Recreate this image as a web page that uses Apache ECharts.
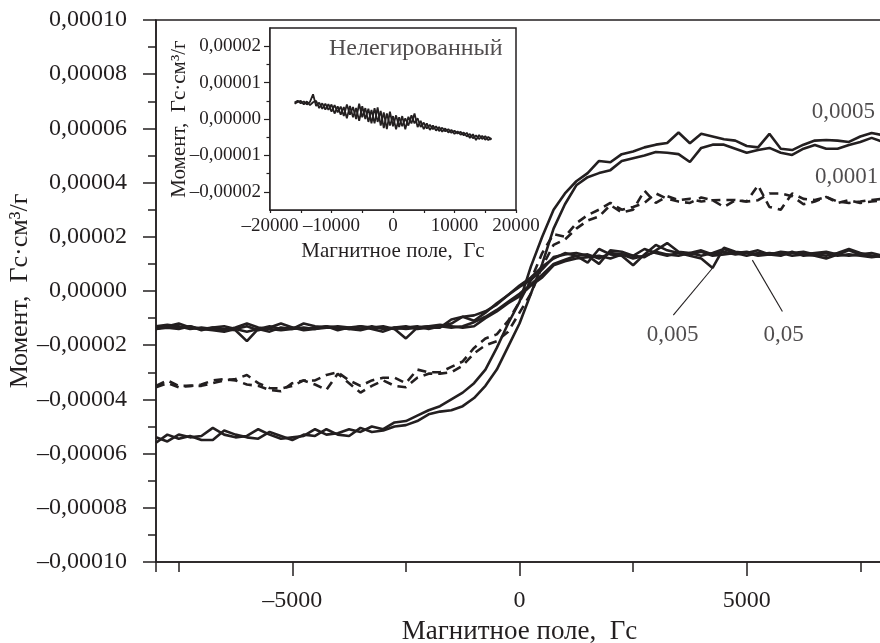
<!DOCTYPE html>
<html><head><meta charset="utf-8">
<script src="https://cdn.jsdelivr.net/npm/echarts@6/dist/echarts.min.js"></script>
<style>html,body{margin:0;padding:0;background:#fff}#c{width:880px;height:643px}</style>
</head><body><div id="c"></div>
<script>
// Magnetic field, Gs (main plot measurement points)
const field = [-8000,-7750,-7500,-7250,-7000,-6750,-6500,-6250,-6000,-5750,-5500,-5250,-5000,-4750,-4500,-4250,-4000,-3750,-3500,-3250,-3000,-2750,-2500,-2250,-2000,-1750,-1500,-1250,-1000,-750,-500,-250,0,250,500,750,1000,1250,1500,1750,2000,2250,2500,2750,3000,3250,3500,3750,4000,4250,4500,4750,5000,5250,5500,5750,6000,6250,6500,6750,7000,7250,7500,7750,8000];
// Moment values in units of 1e-5 Gs·cm3/g
const m0005Down = [-5.4,-5.55,-5.3,-5.4,-5.35,-5.05,-5.3,-5.4,-5.35,-5.1,-5.3,-5.45,-5.4,-5.35,-5.1,-5.3,-5.25,-5.1,-5.2,-5.0,-5.1,-4.85,-4.8,-4.6,-4.4,-4.25,-4.0,-3.75,-3.4,-2.9,-2.1,-1.2,-0.4,0.9,2.0,3.0,3.6,4.05,4.35,4.8,4.75,5.05,5.15,5.3,5.4,5.46,5.85,5.45,5.8,5.7,5.6,5.55,5.35,5.3,5.8,5.25,5.2,5.4,5.55,5.57,5.55,5.5,5.7,5.83,5.75];
const m0005Up = [-5.6,-5.3,-5.45,-5.35,-5.5,-5.5,-5.15,-5.3,-5.4,-5.45,-5.2,-5.35,-5.5,-5.3,-5.35,-5.1,-5.3,-5.35,-5.05,-5.2,-5.15,-5.0,-4.95,-4.8,-4.55,-4.45,-4.4,-4.25,-3.95,-3.5,-2.9,-2.05,-1.2,-0.1,1.0,2.3,3.2,3.9,4.2,4.35,4.46,4.8,4.9,5.0,5.13,5.1,5.05,4.76,5.28,5.4,5.4,5.25,5.1,5.2,5.28,5.1,5.02,5.25,5.39,5.25,5.25,5.39,5.5,5.65,5.5];
const m0001Down = [-3.5,-3.3,-3.5,-3.5,-3.5,-3.4,-3.3,-3.25,-3.1,-3.4,-3.58,-3.6,-3.5,-3.3,-3.3,-3.1,-3.0,-3.3,-3.5,-3.3,-3.2,-3.2,-3.4,-2.9,-3.0,-3.0,-2.8,-2.6,-2.1,-1.75,-1.6,-1.1,-0.4,0.4,1.4,2.1,2.0,2.5,2.8,3.0,3.25,3.0,3.1,3.25,3.6,3.4,3.3,3.25,3.45,3.35,3.1,3.35,3.3,3.9,3.1,3.0,3.6,3.4,3.36,3.47,3.3,3.25,3.3,3.36,3.4];
const m0001Up = [-3.55,-3.4,-3.55,-3.5,-3.45,-3.3,-3.25,-3.3,-3.45,-3.5,-3.65,-3.7,-3.4,-3.3,-3.45,-3.65,-3.05,-3.4,-3.75,-3.5,-3.3,-3.5,-3.55,-3.2,-3.05,-3.05,-3.0,-2.75,-2.3,-2.0,-1.85,-1.5,-0.8,-0.1,0.9,1.7,1.9,2.3,2.6,2.75,3.17,2.9,3.0,3.7,3.25,3.5,3.35,3.4,3.3,3.35,3.36,3.36,3.3,3.35,3.6,3.6,3.5,3.2,3.3,3.47,3.25,3.35,3.25,3.3,3.35];
const m005Down = [-1.35,-1.3,-1.2,-1.35,-1.4,-1.45,-1.5,-1.4,-1.3,-1.45,-1.35,-1.2,-1.35,-1.4,-1.35,-1.3,-1.45,-1.35,-1.3,-1.4,-1.5,-1.35,-1.3,-1.4,-1.35,-1.35,-1.05,-0.95,-1.1,-0.8,-0.45,-0.15,0.2,0.5,0.9,1.2,1.4,1.3,1.05,1.55,1.35,1.3,0.95,1.35,1.7,1.5,1.4,1.3,1.2,0.85,1.6,1.45,1.4,1.5,1.35,1.45,1.4,1.35,1.3,1.2,1.35,1.5,1.35,1.3,1.25];
const m005Up = [-1.4,-1.35,-1.4,-1.3,-1.45,-1.35,-1.4,-1.45,-1.85,-1.4,-1.5,-1.35,-1.4,-1.35,-1.4,-1.3,-1.35,-1.4,-1.45,-1.35,-1.35,-1.4,-1.75,-1.35,-1.3,-1.25,-1.3,-1.35,-1.3,-1.0,-0.75,-0.45,-0.2,0.2,0.5,0.95,1.1,1.2,1.25,1.3,1.2,1.35,1.3,1.55,1.4,1.3,1.4,1.35,1.45,1.3,1.35,1.4,1.3,1.4,1.35,1.3,1.45,1.3,1.35,1.4,1.3,1.35,1.3,1.25,1.3];
const m05Down = [-1.3,-1.25,-1.3,-1.4,-1.35,-1.4,-1.45,-1.35,-1.2,-1.35,-1.4,-1.45,-1.4,-1.2,-1.3,-1.35,-1.35,-1.4,-1.3,-1.35,-1.3,-1.4,-1.35,-1.3,-1.4,-1.3,-1.2,-0.95,-0.9,-0.75,-0.5,-0.15,0.15,0.4,0.8,1.25,1.35,1.4,1.3,1.0,1.5,1.45,1.3,1.25,1.5,1.77,1.45,1.4,1.3,1.4,1.55,1.4,1.45,1.35,1.4,1.35,1.4,1.45,1.35,1.3,1.4,1.55,1.4,1.3,1.3];
const m05Up = [-1.4,-1.3,-1.35,-1.3,-1.4,-1.35,-1.3,-1.4,-1.5,-1.4,-1.3,-1.4,-1.35,-1.45,-1.4,-1.35,-1.3,-1.35,-1.4,-1.3,-1.4,-1.35,-1.4,-1.35,-1.3,-1.3,-1.35,-1.3,-1.15,-0.95,-0.7,-0.4,-0.1,0.25,0.6,1.0,1.15,1.3,1.35,1.2,1.4,1.35,1.2,1.3,1.45,1.35,1.3,1.4,1.5,1.35,1.45,1.35,1.4,1.3,1.35,1.4,1.3,1.35,1.4,1.45,1.35,1.3,1.35,1.4,1.3];

// Inset (undoped sample)
const insetField = [-16000,-15500,-15000,-14500,-14000,-13500,-13000,-12500,-12000,-11500,-11000,-10500,-10000,-9500,-9000,-8500,-8000,-7500,-7000,-6500,-6000,-5500,-5000,-4500,-4000,-3500,-3000,-2500,-2000,-1500,-1000,-500,0,500,1000,1500,2000,2500,3000,3500,4000,4500,5000,5500,6000,6500,7000,7500,8000,8500,9000,9500,10000,10500,11000,11500,12000,12500,13000,13500,14000,14500,15000,15500,16000];
const insetDown = [0.45,0.50,0.43,0.48,0.40,0.47,0.68,0.36,0.45,0.28,0.42,0.25,0.40,0.15,0.35,0.12,0.33,0.02,0.36,0.05,0.30,-0.05,0.35,0.00,0.28,-0.12,0.30,-0.08,0.22,-0.25,0.15,-0.18,0.08,-0.28,0.05,-0.20,0.02,-0.18,0.10,-0.12,0.02,-0.22,-0.10,-0.26,-0.16,-0.28,-0.20,-0.33,-0.24,-0.34,-0.28,-0.38,-0.32,-0.40,-0.35,-0.45,-0.38,-0.52,-0.42,-0.58,-0.44,-0.55,-0.47,-0.58,-0.52];
const insetUp = [0.42,0.47,0.50,0.40,0.48,0.38,0.46,0.50,0.30,0.43,0.26,0.41,0.20,0.38,0.18,0.34,0.08,0.40,0.12,0.33,0.00,0.42,0.05,0.30,-0.08,0.25,-0.12,0.32,-0.18,0.18,-0.28,0.20,-0.20,0.10,-0.22,0.08,-0.28,0.06,-0.12,0.15,-0.22,-0.05,-0.28,-0.12,-0.30,-0.18,-0.32,-0.22,-0.35,-0.26,-0.37,-0.30,-0.41,-0.34,-0.43,-0.37,-0.48,-0.41,-0.53,-0.45,-0.55,-0.46,-0.57,-0.49,-0.57];

// Tick labels
const yTickValues = [-10,-8,-6,-4,-2,0,2,4,6,8,10];
const yTickLabels = ['–0,00010','–0,00008','–0,00006','–0,00004','–0,00002','0,00000','0,00002','0,00004','0,00006','0,00008','0,00010'];
const xTickValues = [-5000,0,5000];
const xTickLabels = ['–5000','0','5000'];
const xMinorTickValues = [-8000,-7500,-2500,2500,7500];
const insetYTickValues = [-2,-1,0,1,2];
const insetYTickLabels = ['–0,00002','–0,00001','0,00000','0,00001','0,00002'];
const insetYMinorTickValues = [-1.5,-0.5,0.5,1.5];
const insetXTickValues = [-20000,-10000,0,10000,20000];
const insetXTickLabels = ['–20000','–10000','0','10000','20000'];

// Annotations (data coordinates)
const curveLabels = [
  {name:'0,0005', value:[7130, 6.6]},
  {name:'0,0001', value:[7200, 4.2]},
  {name:'0,005', value:[3370, -1.62]},
  {name:'0,05', value:[5815, -1.62]}
];
const leader005 = [[3385,-0.89],[4245,0.84]];
const leader05 = [[5786,-0.76],[5125,1.14]];
const insetTitle = [{name:'Нелегированный', value:[3700, 1.93]}];

const INK = '#231f20';
const FONT = 'Liberation Serif';
const pairs = (xs, ys) => xs.map((x, i) => [x, ys[i]]);
const lookup = (vals, labels) => v => { const i = vals.findIndex(t => Math.abs(t - v) < 1e-9); return i >= 0 ? labels[i] : ''; };

const mainLine = (data, dashed) => ({
  type: 'line', xAxisIndex: 0, yAxisIndex: 0, data, showSymbol: false, symbol: 'none',
  lineStyle: dashed ? {color: INK, width: 2.6, type: [9, 6]} : {color: INK, width: 2.6}, z: 3
});

const chart = echarts.init(document.getElementById('c'), null, {renderer: 'canvas'});
chart.setOption({
  animation: false,
  backgroundColor: '#fff',
  textStyle: {fontFamily: FONT, color: INK},
  grid: [
    {left: 156, top: 20, right: -3, bottom: 81, show: true, borderColor: INK, borderWidth: 1.5, containLabel: false, outerBoundsMode: 'none'},
    {left: 270, top: 28, width: 246, height: 182, show: true, borderColor: INK, borderWidth: 1.5, backgroundColor: '#fff', z: 4, containLabel: false, outerBoundsMode: 'none'}
  ],
  xAxis: [
    {gridIndex: 0, type: 'value', min: -8000, max: 8000, position: 'bottom',
     axisLine: {show: true, onZero: false, lineStyle: {color: INK, width: 1.5}},
     axisTick: {show: true, length: 14, customValues: xTickValues, lineStyle: {color: INK, width: 1.5}},
     axisLabel: {customValues: xTickValues, formatter: lookup(xTickValues, xTickLabels), margin: 27, fontSize: 24, fontFamily: FONT, color: INK},
     splitLine: {show: false},
     name: 'Магнитное поле,  Гс', nameLocation: 'middle', nameGap: 56, nameMoveOverlap: false,
     nameTextStyle: {fontSize: 27, fontFamily: FONT, color: INK}},
    {gridIndex: 0, type: 'value', min: -8000, max: 8000, position: 'bottom', offset: 0,
     axisLine: {show: false, onZero: false},
     axisTick: {show: true, length: 10, customValues: xMinorTickValues, lineStyle: {color: INK, width: 1.5}},
     axisLabel: {show: false}, splitLine: {show: false}},
    {gridIndex: 1, type: 'value', min: -20000, max: 20000, interval: 10000, position: 'bottom',
     axisLine: {show: true, onZero: false, lineStyle: {color: INK, width: 1.5}},
     axisTick: {show: true, length: 3, lineStyle: {color: INK, width: 1.2}},
     minorTick: {show: true, splitNumber: 2, length: 3, lineStyle: {color: INK, width: 1.2}},
     axisLabel: {formatter: lookup(insetXTickValues, insetXTickLabels), margin: 7, fontSize: 19, fontFamily: FONT, color: INK},
     splitLine: {show: false}, minorSplitLine: {show: false},
     name: 'Магнитное поле,  Гс', nameLocation: 'middle', nameGap: 31, nameMoveOverlap: false,
     nameTextStyle: {fontSize: 21, fontFamily: FONT, color: INK}}
  ],
  yAxis: [
    {gridIndex: 0, type: 'value', min: -10, max: 10, interval: 2,
     axisLine: {show: true, onZero: false, lineStyle: {color: INK, width: 1.5}},
     axisTick: {show: true, length: 13, lineStyle: {color: INK, width: 1.5}},
     minorTick: {show: true, splitNumber: 2, length: 8, lineStyle: {color: INK, width: 1.5}},
     axisLabel: {formatter: lookup(yTickValues, yTickLabels), margin: 29, fontSize: 24, fontFamily: FONT, color: INK},
     splitLine: {show: false}, minorSplitLine: {show: false},
     name: 'Момент,  Гс·см³/г', nameLocation: 'middle', nameGap: 123, nameRotate: 90, nameMoveOverlap: false,
     nameTextStyle: {fontSize: 26, fontFamily: FONT, color: INK}},
    {gridIndex: 1, type: 'value', min: -2.5, max: 2.5, position: 'left',
     axisLine: {show: true, onZero: false, lineStyle: {color: INK, width: 1.5}},
     axisTick: {show: true, length: 6, customValues: insetYTickValues, lineStyle: {color: INK, width: 1.2}},
     axisLabel: {customValues: insetYTickValues, formatter: lookup(insetYTickValues, insetYTickLabels), margin: 9, fontSize: 19, fontFamily: FONT, color: INK},
     splitLine: {show: false},
     name: 'Момент,  Гс·см³/г', nameLocation: 'middle', nameGap: 80, nameRotate: 90, nameMoveOverlap: false,
     nameTextStyle: {fontSize: 21, fontFamily: FONT, color: INK}},
    {gridIndex: 1, type: 'value', min: -2.5, max: 2.5, position: 'left', offset: 0,
     axisLine: {show: false, onZero: false},
     axisTick: {show: true, length: 3.5, customValues: insetYMinorTickValues, lineStyle: {color: INK, width: 1.2}},
     axisLabel: {show: false}, splitLine: {show: false}}
  ],
  series: [
    mainLine(pairs(field, m0005Down), false),
    mainLine(pairs(field, m0005Up), false),
    mainLine(pairs(field, m0001Down), true),
    mainLine(pairs(field, m0001Up), true),
    mainLine(pairs(field, m005Down), false),
    mainLine(pairs(field, m005Up), false),
    mainLine(pairs(field, m05Down), false),
    mainLine(pairs(field, m05Up), false),
    {type: 'line', xAxisIndex: 0, yAxisIndex: 0, data: leader005, showSymbol: false, symbol: 'none', lineStyle: {color: INK, width: 1.1}},
    {type: 'line', xAxisIndex: 0, yAxisIndex: 0, data: leader05, showSymbol: false, symbol: 'none', lineStyle: {color: INK, width: 1.1}},
    {type: 'scatter', xAxisIndex: 0, yAxisIndex: 0, data: curveLabels, symbolSize: 0,
     label: {show: true, position: 'inside', formatter: '{b}', fontSize: 23, fontFamily: FONT, color: INK}},
    {type: 'line', xAxisIndex: 2, yAxisIndex: 1, data: pairs(insetField, insetDown), showSymbol: false, symbol: 'none', lineStyle: {color: INK, width: 1.8}, z: 6},
    {type: 'line', xAxisIndex: 2, yAxisIndex: 1, data: pairs(insetField, insetUp), showSymbol: false, symbol: 'none', lineStyle: {color: INK, width: 1.8}, z: 6},
    {type: 'scatter', xAxisIndex: 2, yAxisIndex: 1, data: insetTitle, symbolSize: 0, z: 6,
     label: {show: true, position: 'inside', formatter: '{b}', fontSize: 24, fontFamily: FONT, color: INK}}
  ]
});
</script></body></html>
